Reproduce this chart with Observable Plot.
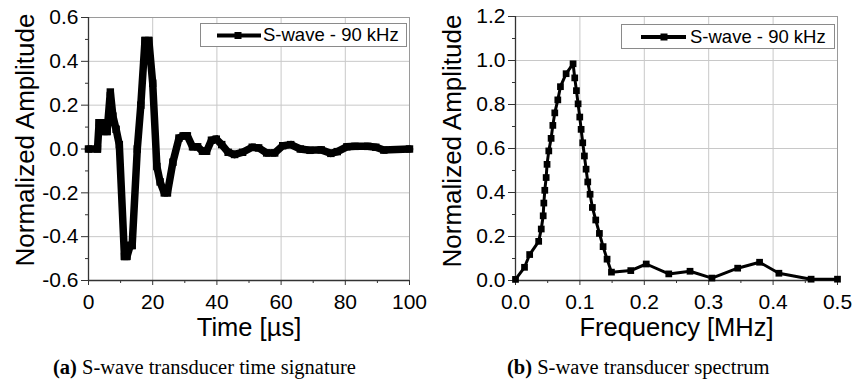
<!DOCTYPE html>
<html>
<head>
<meta charset="utf-8">
<script src="https://cdn.jsdelivr.net/npm/d3@7"></script>
<script src="https://cdn.jsdelivr.net/npm/@observablehq/plot@0.6"></script>
<style>
  html, body { margin: 0; padding: 0; background: #fff; }
  #root { position: relative; width: 853px; height: 381px; background: #fff; overflow: hidden; font-family: "Liberation Sans", Arial, sans-serif; }
  .panel { position: absolute; top: 0; }
  .legend { position: absolute; border: 1px solid #8a8a8a; background: #fff; box-sizing: border-box; font-size: 18.5px; color: #000; }
  .legend svg { position: absolute; left: 0; top: 0; }
  .legend span { position: absolute; white-space: nowrap; }
  .caption { position: absolute; font-family: "Liberation Serif", "Times New Roman", serif; font-size: 20.5px; color: #000; white-space: nowrap; }
</style>
</head>
<body>
<div id="root">
  <div id="pa" class="panel" style="left:0px"></div>
  <div id="pb" class="panel" style="left:427px"></div>
  <div class="legend" style="left:200px;top:23px;width:207px;height:24px">
    <svg width="207" height="24"><line x1="16" x2="60" y1="11.5" y2="11.5" stroke="#000" stroke-width="4"/><rect x="33.5" y="8" width="7" height="7" fill="#000"/></svg>
    <span style="left:62px;top:0px;line-height:22px">S-wave - 90 kHz</span>
  </div>
  <div class="legend" style="left:621px;top:24px;width:214px;height:25px">
    <svg width="214" height="25"><line x1="19" x2="64" y1="12" y2="12" stroke="#000" stroke-width="4"/><rect x="38.5" y="8.5" width="7" height="7" fill="#000"/></svg>
    <span style="left:68px;top:0px;line-height:23px">S-wave - 90 kHz</span>
  </div>
  <div class="caption" style="left:53px;top:356px"><b>(a)</b> S-wave transducer time signature</div>
  <div class="caption" style="left:507px;top:356px"><b>(b)</b> S-wave transducer spectrum</div>
</div>
<script>
// ---- Data: (a) time signature ----
const timeUs = [0, 2.8, 3.3, 4.3, 4.8, 5.8, 6.8, 7.6, 8.6, 9.6, 11.2, 12.0, 13.0, 13.6, 15.2, 16.3, 17.6, 18.8, 20.0, 21.3, 22.3, 23.6, 24.6, 26.3, 28.2, 29.5, 30.8, 32.4, 34.0, 35.5, 36.8, 38.3, 39.8, 41.5, 43.5, 45.5, 48, 51, 53, 55.5, 58, 60.5, 63, 66, 69, 72.5, 75.5, 77.5, 80.5, 83, 87, 89.5, 92, 100];
const timeAmp = [0, 0, 0.12, 0.12, 0.08, 0.08, 0.26, 0.15, 0.09, 0.02, -0.49, -0.49, -0.44, -0.44, 0.0, 0.2, 0.495, 0.495, 0.3, -0.08, -0.15, -0.2, -0.2, -0.06, 0.05, 0.06, 0.06, 0.01, 0.01, -0.01, -0.01, 0.04, 0.045, 0.02, -0.015, -0.025, -0.015, 0.008, 0.005, -0.018, -0.018, 0.015, 0.02, 0.0, -0.006, -0.004, -0.02, -0.012, 0.01, 0.012, 0.012, 0.008, -0.005, 0];

// ---- Data: (b) spectrum ----
const freqMHz = [0.0, 0.014, 0.022, 0.036, 0.040, 0.043, 0.044, 0.0455, 0.0476, 0.049, 0.0517, 0.0553, 0.058, 0.061, 0.0657, 0.0698, 0.0786, 0.0894, 0.092, 0.0946, 0.0972, 0.0998, 0.1019, 0.1044, 0.107, 0.1096, 0.1122, 0.1158, 0.1194, 0.1246, 0.1303, 0.136, 0.1422, 0.149, 0.179, 0.203, 0.238, 0.271, 0.305, 0.345, 0.379, 0.409, 0.459, 0.5];
const specAmp = [0.005, 0.06, 0.118, 0.178, 0.234, 0.294, 0.352, 0.41, 0.468, 0.528, 0.589, 0.646, 0.705, 0.762, 0.821, 0.881, 0.940, 0.985, 0.921, 0.863, 0.803, 0.743, 0.687, 0.626, 0.566, 0.506, 0.448, 0.392, 0.332, 0.275, 0.214, 0.154, 0.097, 0.038, 0.045, 0.075, 0.030, 0.042, 0.011, 0.056, 0.083, 0.033, 0.006, 0.006];

// ---- Tick definitions ----
const aXMajor = [0, 20, 40, 60, 80, 100];
const aXMinor = [10, 30, 50, 70, 90];
const aYMajor = [-0.6, -0.4, -0.2, 0.0, 0.2, 0.4, 0.6];
const aYMinor = [-0.5, -0.3, -0.1, 0.1, 0.3, 0.5];
const bXMajor = [0.0, 0.1, 0.2, 0.3, 0.4, 0.5];
const bXMinor = [0.05, 0.15, 0.25, 0.35, 0.45];
const bYMajor = [0.0, 0.2, 0.4, 0.6, 0.8, 1.0, 1.2];
const bYMinor = [0.1, 0.3, 0.5, 0.7, 0.9, 1.1];

const titleY = "Normalized Amplitude";
const titleXa = "Time [\u00B5s]";
const titleXb = "Frequency [MHz]";

const timeData = timeUs.map((t, i) => ({t, v: timeAmp[i]}));
const specData = freqMHz.map((f, i) => ({f, v: specAmp[i]}));

const fmtA = d => String(d);
const fmt1 = d => d.toFixed(1);

function common({xDomain, yDomain, xMajor, xMinor, yMajor, yMinor, xFmt, yFmt, xTitle, marginTop, marginRight, titleDy}) {
  return {
    width: 426, height: 345,
    marginLeft: 88, marginRight, marginTop, marginBottom: 345 - 280,
    style: {fontFamily: "'Liberation Sans', Arial, sans-serif", fontSize: "21px", background: "#fff", overflow: "visible"},
    x: {domain: xDomain},
    y: {domain: yDomain},
    pre: [
      Plot.gridX(xMajor.slice(1, -1), {stroke: "#c8c8c8", strokeOpacity: 1, strokeWidth: 1}),
      Plot.gridY(yMajor.slice(1, -1), {stroke: "#c8c8c8", strokeOpacity: 1, strokeWidth: 1}),
      Plot.frame({stroke: "#9a9a9a", strokeWidth: 1}),
      Plot.axisX({ticks: xMajor, tickSize: 5, tickPadding: 9, tickFormat: xFmt, fontSize: 21, label: null, stroke: "#333", fill: "#000"}),
      Plot.axisX({ticks: xMinor, tickSize: 3, tickFormat: () => "", label: null, stroke: "#333"}),
      Plot.axisY({ticks: yMajor, tickSize: 7, tickPadding: 3, tickFormat: yFmt, fontSize: 21, label: null, stroke: "#333", fill: "#000"}),
      Plot.axisY({ticks: yMinor, tickSize: 3, tickFormat: () => "", label: null, stroke: "#333"}),
      Plot.ruleX([xDomain[0]], {stroke: "#333", strokeWidth: 1.3}),
      Plot.ruleY([yDomain[0]], {stroke: "#333", strokeWidth: 1.3}),
      Plot.text([titleY], {frameAnchor: "left", dx: -63, dy: titleDy, rotate: -90, fontSize: 26, textAnchor: "middle", lineAnchor: "middle", fill: "#000"}),
      Plot.text([xTitle], {frameAnchor: "bottom", dy: 47, fontSize: 25.5, textAnchor: "middle", lineAnchor: "middle", fill: "#000"})
    ]
  };
}

const optA = common({xDomain: [0, 100], yDomain: [-0.6, 0.6], xMajor: aXMajor, xMinor: aXMinor, yMajor: aYMajor, yMinor: aYMinor, xFmt: fmtA, yFmt: fmt1, xTitle: titleXa, marginTop: 17, marginRight: 17, titleDy: -9});
const plotA = Plot.plot({
  ...optA,
  marks: [
    ...optA.pre,
    Plot.line(timeData, {x: "t", y: "v", stroke: "#000", strokeWidth: 7.5, strokeLinejoin: "miter", strokeMiterlimit: 2}),
    Plot.dot(timeData, {x: "t", y: "v", symbol: "square", r: 4.2, fill: "#000"})
  ]
});
document.getElementById("pa").appendChild(plotA);

const optB = common({xDomain: [0, 0.5], yDomain: [0, 1.2], xMajor: bXMajor, xMinor: bXMinor, yMajor: bYMajor, yMinor: bYMinor, xFmt: fmt1, yFmt: fmt1, xTitle: titleXb, marginTop: 16, marginRight: 16, titleDy: -7.5});
const plotB = Plot.plot({
  ...optB,
  marks: [
    ...optB.pre,
    Plot.line(specData, {x: "f", y: "v", stroke: "#000", strokeWidth: 3}),
    Plot.dot(specData, {x: "f", y: "v", symbol: "square", r: 3.8, fill: "#000"})
  ]
});
document.getElementById("pb").appendChild(plotB);
</script>
</body>
</html>
